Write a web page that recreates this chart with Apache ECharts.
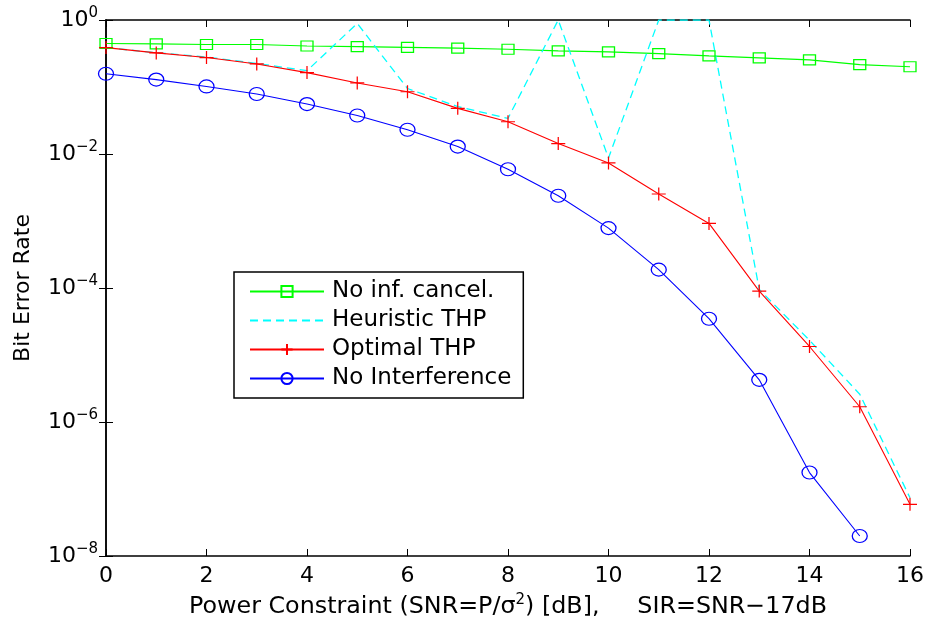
<!DOCTYPE html>
<html><head><meta charset="utf-8">
<script src="https://cdn.jsdelivr.net/npm/echarts@6/dist/echarts.min.js"></script>
<style>html,body{margin:0;padding:0;background:#fff}#c{width:928px;height:622px}</style>
</head><body><div id="c"></div>
<script>
const snr = [0,1,2,3,4,5,6,7,8,9,10,11,12,13,14,15,16];
const noCancel = [0.445,0.44,0.43,0.43,0.41,0.40,0.39,0.38,0.366,0.346,0.334,0.315,0.291,0.272,0.254,0.216,0.201];
const heuristic = [0.387,0.325,0.28,0.225,0.175,0.89,0.095,0.051,0.034,1.0,0.0087,1.0,1.0,9.5e-5,1.66e-5,2.6e-6,7.4e-8];
const optimal = [0.387,0.323,0.275,0.221,0.164,0.115,0.085,0.048,0.0303,0.0143,0.00736,0.00253,9.2e-4,9.0e-5,1.34e-5,1.69e-6,5.9e-8];
const noInterf = [0.158,0.129,0.102,0.0785,0.0556,0.0376,0.023,0.0129,0.00592,0.00238,7.83e-4,1.88e-4,3.48e-5,4.26e-6,1.76e-7,1.99e-8];
const yTicks = [1e-8,1e-6,1e-4,1e-2,1];
const xTicks = [0,2,4,6,8,10,12,14,16];
const names = ['No inf. cancel.','Heuristic THP','Optimal THP','No Interference'];

const FONT = 'DejaVu Sans';
const pairs = arr => arr.map((v,i)=>[snr[i], v]);
const tr = 'rgba(0,0,0,0)';

const chart = echarts.init(document.getElementById('c'), null, {renderer:'canvas'});
const axisLine = {show:true, lineStyle:{color:'#000', width:1.5}};
chart.setOption({
  animation:false,
  backgroundColor:'#fff',
  grid:{left:106, right:18, top:20, bottom:66, containLabel:false, outerBoundsMode:'none'},
  xAxis:[{
    type:'value', min:0, max:16, interval:2, position:'bottom',
    axisLine, splitLine:{show:false},
    axisTick:{inside:true, length:7, lineStyle:{color:'#000', width:1}},
    axisLabel:{color:'#000', fontFamily:FONT, fontSize:22, margin:9},
    name:'{a|Power Constraint (SNR=P/σ}{s|2}{a|) [dB],     SIR=SNR−17dB}',
    nameLocation:'middle', nameGap:37,
    nameTextStyle:{rich:{
      a:{fontFamily:FONT, fontSize:23.8, color:'#000'},
      s:{fontFamily:FONT, fontSize:15, color:'#000', padding:[0,0,13,0]}
    }}
  },{
    type:'value', min:0, max:16, interval:2, position:'top',
    axisLine, splitLine:{show:false},
    axisTick:{inside:true, length:7, lineStyle:{color:'#000', width:1}},
    axisLabel:{show:false}
  }],
  yAxis:[{
    type:'log', logBase:10, min:1e-8, max:1, position:'left',
    axisLine, splitLine:{show:false}, minorTick:{show:false},
    axisTick:{inside:true, length:7, customValues:yTicks, lineStyle:{color:'#000', width:1}},
    axisLabel:{customValues:yTicks, margin:8, color:'#000',
      formatter: v => {
        const e = Math.round(Math.log10(v));
        return '{b|10}{s|' + (e<0 ? '−'+(-e) : String(e)) + '}';
      },
      rich:{
        b:{fontFamily:FONT, fontSize:22, color:'#000'},
        s:{fontFamily:FONT, fontSize:15, color:'#000', padding:[0,0,14,0]}
      }
    },
    name:'Bit Error Rate', nameLocation:'middle', nameGap:72, nameRotate:90,
    nameTextStyle:{fontFamily:FONT, fontSize:22, color:'#000'}
  },{
    type:'log', logBase:10, min:1e-8, max:1, position:'right',
    axisLine, splitLine:{show:false}, minorTick:{show:false},
    axisTick:{inside:true, length:7, customValues:yTicks, lineStyle:{color:'#000', width:1}},
    axisLabel:{show:false}
  }],
  legend:{
    left:234, top:272, orient:'vertical',
    backgroundColor:'#fff', borderColor:'#000', borderWidth:1.5, borderRadius:0,
    padding:[8,12,8,15], itemWidth:74, itemHeight:14, itemGap:6,
    textStyle:{fontFamily:FONT, fontSize:23, color:'#000', padding:[0,0,0,3]},
    data:names
  },
  series:[
    {name:names[0], type:'line', data:pairs(noCancel), symbol:'rect', symbolSize:[12,10],
     lineStyle:{color:'#00ff00', width:1.1}, itemStyle:{color:tr, borderColor:'#00ff00', borderWidth:1.2}},
    {name:names[1], type:'line', data:pairs(heuristic), symbol:'circle', symbolSize:0, showSymbol:false,
     lineStyle:{color:'#00ffff', width:1.3, type:[8,5]}, itemStyle:{color:tr, borderColor:tr, borderWidth:0}},
    {name:names[2], type:'line', data:pairs(optimal), symbol:'path://M5,0L5,10M0,5L10,5', symbolSize:[14,13],
     lineStyle:{color:'#ff0000', width:1.1}, itemStyle:{color:tr, borderColor:'#ff0000', borderWidth:1.2}},
    {name:names[3], type:'line', data:pairs(noInterf), symbol:'circle', symbolSize:[15,13],
     lineStyle:{color:'#0000ff', width:1.1}, itemStyle:{color:tr, borderColor:'#0000ff', borderWidth:1.2}}
  ]
});
</script></body></html>
